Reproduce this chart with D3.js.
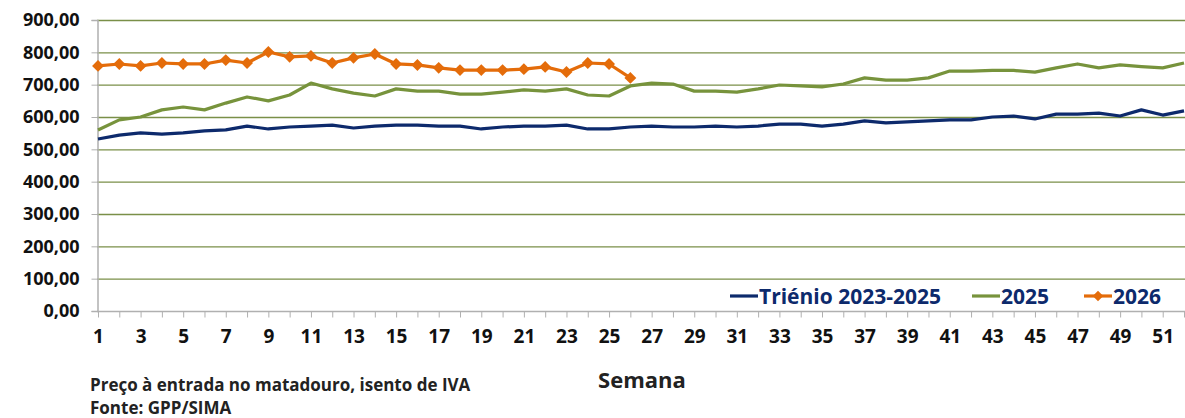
<!DOCTYPE html>
<html>
<head>
<meta charset="utf-8">
<script src="https://cdn.jsdelivr.net/npm/d3@7"></script>
<style>
  body { margin: 0; background: #fff; }
  svg { display: block; font-family: "Open Sans", sans-serif; font-weight: 700; }
</style>
</head>
<body>
<div id="chart"></div>
<script>
// weekly slaughterhouse entry prices
var weeks = d3.range(1, 53)

var trienio = [532, 544, 551, 547, 551, 557, 560, 572, 563, 569, 572, 575, 566, 572, 575, 575, 572, 572, 563, 569,
  572, 572, 575, 563, 563, 569, 572, 569, 569, 572, 569, 572, 578, 578, 572, 578, 588, 582, 585, 588,
  591, 591, 600, 603, 594, 609, 609, 612, 603, 622, 606, 619]

var y2025 = [560, 591, 600, 622, 631, 622, 643, 662, 650, 668, 705, 687, 674, 665, 687, 680, 680, 671, 671, 677,
  684, 680, 687, 668, 665, 696, 705, 702, 680, 680, 677, 687, 699, 696, 693, 702, 721, 714, 714, 721,
  742, 742, 744, 744, 739, 752, 764, 752, 761, 756, 752, 767]

var y2026 = [758, 764, 758, 767, 764, 764, 776, 767, 801, 786, 789, 767, 783, 795, 764, 761, 752, 745, 745, 745,
  748, 755, 739, 767, 764, 721]

var yTicks = [0, 100, 200, 300, 400, 500, 600, 700, 800, 900]

var series = [
  {name: 'Triénio 2023-2025', values: trienio, color: '#0d2a6c', marker: false},
  {name: '2025', values: y2025, color: '#77933c', marker: false},
  {name: '2026', values: y2026, color: '#e46c0a', marker: true}
]

var W = 1185, H = 418
var svg = d3.select('#chart').append('svg').attr('width', W).attr('height', H)

var x = d3.scaleLinear().domain([1, 52]).range([98, 1184])
var y = d3.scaleLinear().domain([0, 900]).range([311, 20])

var fmt = function(d){ return d3.format('.2f')(d).replace('.', ',') }

// gridlines
svg.append('g')
  .selectAll('line')
  .data(yTicks.filter(function(d){ return d > 0 }))
  .join('line')
  .attr('x1', 97).attr('x2', W)
  .attr('y1', function(d){ return y(d) + .5 })
  .attr('y2', function(d){ return y(d) + .5 })
  .attr('stroke', '#7a8f48').attr('stroke-width', 1.3)

// y axis
var yAxis = d3.axisLeft(y).tickValues(yTicks).tickFormat(fmt).tickSize(6).tickPadding(12)
var gy = svg.append('g').attr('transform', 'translate(97.5,0)').call(yAxis)
gy.select('.domain').attr('stroke', '#b0b0b0').attr('stroke-width', 1.5)
gy.selectAll('.tick line').attr('stroke', '#b0b0b0')
gy.selectAll('text').attr('font-size', 18).attr('fill', '#111').attr('font-family', '"Open Sans", sans-serif').attr('font-weight', 700)

// x axis
var xAxis = d3.axisBottom(x).tickValues(weeks).tickFormat(function(d){ return d % 2 == 1 ? d : '' })
  .tickSizeInner(6).tickSizeOuter(0).tickPadding(12)
var gx = svg.append('g').attr('transform', 'translate(0,311.5)').call(xAxis)
gx.select('.domain').attr('stroke', '#b0b0b0').attr('stroke-width', 1.5).attr('d', 'M97,0H' + W)
gx.selectAll('.tick line').attr('stroke', '#b0b0b0')
gx.selectAll('text').attr('font-size', 19).attr('fill', '#111').attr('font-family', '"Open Sans", sans-serif').attr('font-weight', 700)

// lines
var line = d3.line()
  .x(function(d, i){ return x(weeks[i]) })
  .y(function(d){ return y(d) })

series.forEach(function(s){
  svg.append('path')
    .attr('d', line(s.values))
    .attr('fill', 'none')
    .attr('stroke', s.color)
    .attr('stroke-width', 3.2)
    .attr('stroke-linejoin', 'round')

  if (s.marker) {
    svg.append('g').selectAll('path')
      .data(s.values)
      .join('path')
      .attr('d', d3.symbol(d3.symbolDiamond2, 90))
      .attr('transform', function(d, i){ return 'translate(' + x(weeks[i]) + ',' + y(d) + ')' })
      .attr('fill', s.color)
  }
})

// legend
var legendX = [730, 972, 1084]
var leg = svg.append('g')
series.forEach(function(s, i){
  var g = leg.append('g').attr('transform', 'translate(' + legendX[i] + ',296)')
  g.append('line').attr('x1', 0).attr('x2', 28).attr('y1', 0).attr('y2', 0)
    .attr('stroke', s.color).attr('stroke-width', 3.2)
  if (s.marker) {
    g.append('path').attr('d', d3.symbol(d3.symbolDiamond2, 70)).attr('transform', 'translate(14,0)').attr('fill', s.color)
  }
  g.append('text').attr('x', 29).attr('y', 0).attr('dy', '0.36em')
    .attr('font-size', 21).attr('fill', '#0d2a6c').text(s.name)
})

// titles and notes
svg.append('text').attr('x', 642).attr('y', 388).attr('text-anchor', 'middle')
  .attr('font-size', 22).attr('fill', '#222').text('Semana')
svg.append('text').attr('x', 90).attr('y', 391)
  .attr('font-size', 17).attr('fill', '#222').text('Preço à entrada no matadouro, isento de IVA')
svg.append('text').attr('x', 90).attr('y', 414)
  .attr('font-size', 17).attr('fill', '#222').text('Fonte: GPP/SIMA')
</script>
</body>
</html>
